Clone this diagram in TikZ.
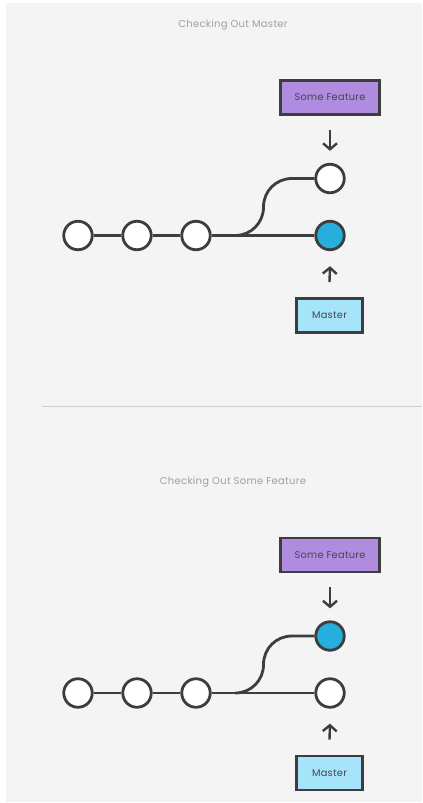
\documentclass[tikz,border=0pt]{standalone}
\usepackage{fontspec}
\setmainfont{Poppins}[LetterSpace=3]
\usetikzlibrary{arrows.meta}

\definecolor{ink}{HTML}{3D3D3D}
\definecolor{panelbg}{HTML}{F4F4F4}
\definecolor{featurefill}{HTML}{B08CE0}
\definecolor{masterfill}{HTML}{A6E4FC}
\definecolor{headfill}{HTML}{26AEDC}
\definecolor{titlegrey}{HTML}{A0A0A0}
\definecolor{labelink}{HTML}{45454C}
\definecolor{rulegrey}{HTML}{CFCFCF}

\tikzset{
  commit/.style={circle, draw=ink, line width=2.8bp, fill=white,
    minimum size=28.5bp, inner sep=0pt},
  head/.style={commit, fill=headfill},
  branchbox/.style={rectangle, draw=ink, line width=2.8bp,
    minimum height=34bp, inner sep=0pt, text=labelink,
    font=\fontsize{9.8bp}{11bp}\selectfont},
  featurebox/.style={branchbox, fill=featurefill, minimum width=99bp},
  masterbox/.style={branchbox, fill=masterfill, minimum width=66bp},
  panetitle/.style={text=titlegrey, font=\fontsize{10bp}{12bp}\selectfont},
  link/.style={draw=ink, line width=2.8bp},
  pointer/.style={draw=ink, line width=2.4bp,
    -{Straight Barb[length=6bp, width=14bp, line width=2.4bp]}},
}

\begin{document}
\begin{tikzpicture}[x=1bp, y=-1bp]
  \useasboundingbox (0,0) rectangle (422,803);
  \fill[white] (0,0) rectangle (422,803);
  \fill[panelbg] (6,3) rectangle (422,802);

  % ---------- upper panel: master checked out ----------
  \node[panetitle] (t1) at (233,25) {Checking Out Master};
  \node[featurebox] (f1) at (330,97.5) {Some Feature};
  \node[commit] (a1) at (78,235.5) {};
  \node[commit] (b1) at (137,235.5) {};
  \node[commit] (c1) at (196,235.5) {};
  \node[commit] (s1) at (330,178.5) {};
  \node[head]   (m1) at (330,235.5) {};
  \node[masterbox] (mb1) at (329.5,315.5) {Master};
  \coordinate (k1) at (235,235.5);

  \draw[link] (a1) -- (b1) -- (c1) -- (m1);
  \draw[link] (k1) .. controls (251,235.5) and (263.5,223) .. (263.5,207)
              .. controls (263.5,191) and (276,178.5) .. (292,178.5) -- (s1.west);
  \draw[pointer] ([yshift=-14bp]f1.south) -- ([yshift=12bp]s1.north);
  \draw[pointer] ([yshift=15bp]mb1.north) -- ([yshift=-15bp]m1.south);

  % ---------- divider ----------
  \coordinate (r0) at (42,406);
  \coordinate (r1) at (422,406);
  \draw[rulegrey, line width=1bp] (r0) -- (r1);

  % ---------- lower panel: feature checked out ----------
  \begin{scope}[yshift=-457.5bp]
    \node[panetitle] (t2) at (233,25) {Checking Out Some Feature};
    \node[featurebox] (f2) at (330,97.5) {Some Feature};
    \node[commit] (a2) at (78,235.5) {};
    \node[commit] (b2) at (137,235.5) {};
    \node[commit] (c2) at (196,235.5) {};
    \node[head]   (s2) at (330,178.5) {};
    \node[commit] (m2) at (330,235.5) {};
    \node[masterbox] (mb2) at (329.5,315.5) {Master};
    \coordinate (k2) at (235,235.5);

    \draw[link] (a2) -- (b2) -- (c2) -- (m2);
    \draw[link] (k2) .. controls (251,235.5) and (263.5,223) .. (263.5,207)
                .. controls (263.5,191) and (276,178.5) .. (292,178.5) -- (s2.west);
    \draw[pointer] ([yshift=-14bp]f2.south) -- ([yshift=12bp]s2.north);
    \draw[pointer] ([yshift=15bp]mb2.north) -- ([yshift=-15bp]m2.south);
  \end{scope}
\end{tikzpicture}
\end{document}
